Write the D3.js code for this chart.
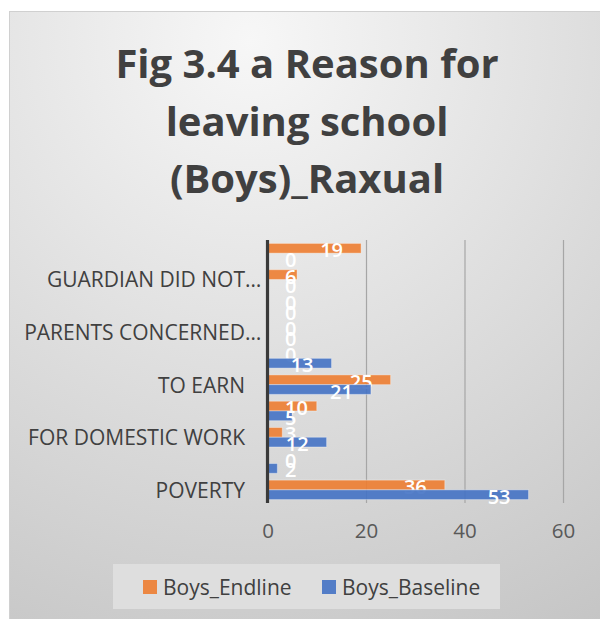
<!DOCTYPE html>
<html>
<head>
<meta charset="utf-8">
<script src="https://cdn.jsdelivr.net/npm/d3@7"></script>
<style>
  html, body { margin: 0; padding: 0; background: #ffffff; }
  svg { display: block; }
</style>
</head>
<body>
<svg id="chart" width="600" height="619"></svg>
<script>
// Reasons, listed from the bottom of the chart upwards
const categories = [
  "POVERTY", "r2", "FOR DOMESTIC WORK", "r4", "TO EARN",
  "r6", "PARENTS CONCERNED…", "r8", "GUARDIAN DID NOT…", "r10"
];
// Only every other reason carries a visible axis label
const shownLabels = ["POVERTY", "FOR DOMESTIC WORK", "TO EARN", "PARENTS CONCERNED…", "GUARDIAN DID NOT…"];
const boysEndline  = [36, 0, 3, 10, 25, 0, 0, 0, 6, 19];
const boysBaseline = [53, 2, 12, 5, 21, 13, 0, 0, 0, 0];
const seriesNames = ["Boys_Endline", "Boys_Baseline"];
const seriesColors = ["#ED7D31", "#4472C4"];
const xTicks = [0, 20, 40, 60];
const titleLines = ["Fig 3.4 a Reason for", "leaving school", "(Boys)_Raxual"];

const svg = d3.select("#chart");
const font = "'Open Sans', 'DejaVu Sans', sans-serif";

// Background panel with soft gradient
const defs = svg.append("defs");
const grad = defs.append("radialGradient")
  .attr("id", "bg").attr("gradientUnits", "userSpaceOnUse")
  .attr("cx", 250).attr("cy", 40).attr("r", 720);
grad.append("stop").attr("offset", "0%").attr("stop-color", "#f7f7f7");
grad.append("stop").attr("offset", "40%").attr("stop-color", "#e2e2e2");
grad.append("stop").attr("offset", "100%").attr("stop-color", "#c2c2c2");

svg.append("rect").attr("x", 9.5).attr("y", 11.5).attr("width", 600).attr("height", 620)
  .attr("fill", "url(#bg)").attr("stroke", "#d0d0d0").attr("stroke-width", 1);

// Title
svg.append("g").selectAll("text").data(titleLines).join("text")
  .attr("x", 307).attr("y", (d, i) => 78 + i * 57.5)
  .attr("text-anchor", "middle")
  .attr("font-family", font).attr("font-weight", "bold").attr("font-size", 40)
  .attr("fill", "#404040")
  .text(d => d);

// Scales
const x = d3.scaleLinear().domain([0, 60]).range([267.5, 563]);
const y = d3.scaleBand().domain(categories).range([503, 240]).paddingInner(0.26).paddingOuter(0.13);
const ySub = d3.scaleBand().domain(seriesNames).range([0, y.bandwidth()]);

// Gridlines
svg.append("g").attr("transform", "translate(0,503)")
  .call(d3.axisBottom(x).tickValues(xTicks.slice(1)).tickSize(-263).tickFormat(""))
  .call(g => g.select(".domain").remove())
  .call(g => g.selectAll("line").attr("stroke", "#a6a6a6").attr("stroke-width", 1.2));

// X tick labels
svg.append("g").attr("transform", "translate(0,503)")
  .call(d3.axisBottom(x).tickValues(xTicks).tickSize(0).tickPadding(20))
  .call(g => g.select(".domain").remove())
  .call(g => g.selectAll("text").attr("font-family", font).attr("font-size", 20.5).attr("fill", "#595959"));

// Bars
const rows = categories.map((c, i) => ({ cat: c, vals: [boysEndline[i], boysBaseline[i]] }));
const groups = svg.append("g").selectAll("g").data(rows).join("g")
  .attr("transform", d => `translate(0,${y(d.cat)})`);

const cells = groups.selectAll("g").data(d => d.vals.map((v, j) => ({ v, s: seriesNames[j], j })))
  .join("g");

cells.append("rect")
  .attr("x", x(0))
  .attr("y", d => ySub(d.s))
  .attr("width", d => x(d.v) - x(0))
  .attr("height", ySub.bandwidth())
  .attr("fill", d => seriesColors[d.j])
  .attr("fill-opacity", 0.9)
  .attr("stroke", "#ffffff").attr("stroke-opacity", 0.35).attr("stroke-width", 1)
  .attr("display", d => d.v > 0 ? null : "none");

// Value labels inside the bar ends
cells.append("text")
  .attr("y", d => ySub(d.s) + ySub.bandwidth() / 2 + 1.5)
  .attr("dominant-baseline", "central")
  .attr("font-family", font).attr("font-size", 20).attr("font-weight", 600).attr("fill", "#ffffff")
  .text(d => d.v)
  .each(function (d) {
    const w = this.getComputedTextLength();
    const left = Math.max(x(d.v) - 18 - w, 285);
    d3.select(this).attr("x", left);
  });

// Category axis line
svg.append("line").attr("x1", x(0)).attr("x2", x(0)).attr("y1", 240).attr("y2", 503)
  .attr("stroke", "#3a3a3a").attr("stroke-width", 3.2);

// Category labels: right-aligned at the text body, any ellipsis hangs past it
svg.append("g").selectAll("text").data(shownLabels).join("text")
  .attr("y", c => y(c) + y.bandwidth() / 2)
  .attr("dominant-baseline", "central")
  .attr("text-anchor", "start")
  .attr("font-family", font).attr("font-size", 21).attr("fill", "#404040")
  .text(c => c)
  .each(function (c) {
    const body = c.endsWith("…") ? c.length - 1 : c.length;
    const w = this.getSubStringLength(0, body);
    d3.select(this).attr("x", 245 - w);
  });

// Legend
const legend = svg.append("g");
legend.append("rect").attr("x", 113).attr("y", 564).attr("width", 387).attr("height", 45)
  .attr("fill", "#dedede");
const items = [{ name: seriesNames[0], c: seriesColors[0], x: 143 }, { name: seriesNames[1], c: seriesColors[1], x: 322 }];
items.forEach(it => {
  legend.append("rect").attr("x", it.x).attr("y", 580).attr("width", 14).attr("height", 14)
    .attr("fill", it.c).attr("fill-opacity", 0.9);
  legend.append("text").attr("x", it.x + 20).attr("y", 587).attr("dominant-baseline", "central")
    .attr("font-family", font).attr("font-size", 21).attr("fill", "#404040").text(it.name);
});
</script>
</body>
</html>
